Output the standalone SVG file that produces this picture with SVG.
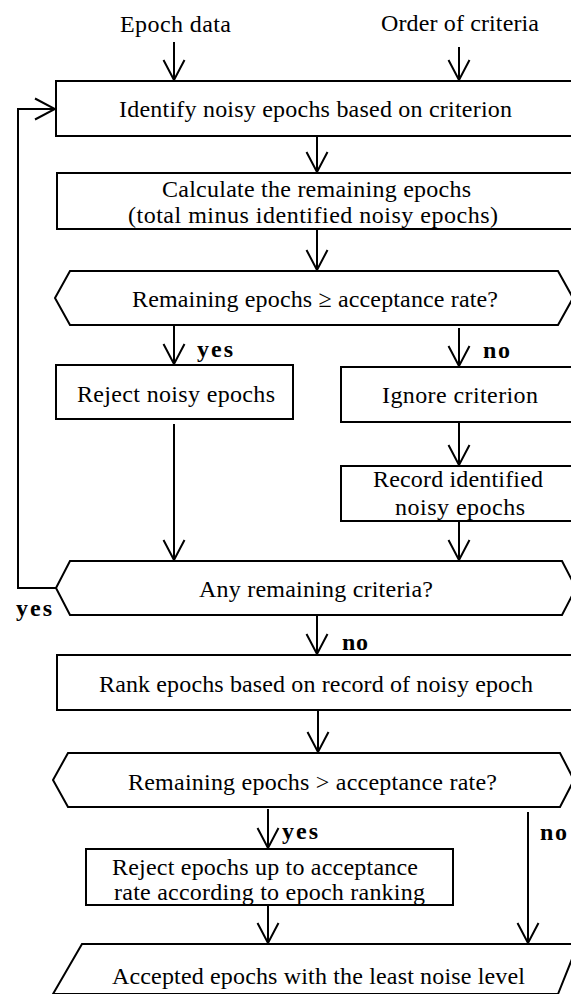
<svg xmlns="http://www.w3.org/2000/svg" width="571" height="994" viewBox="0 0 571 994">
<style>
.s{fill:#fff;stroke:#000;stroke-width:2}
.t{font-family:"Liberation Serif","Times New Roman",serif;font-size:24px;fill:#000}
.b{font-family:"Liberation Serif","Times New Roman",serif;font-size:24px;font-weight:bold;fill:#000}
.c{fill:none;stroke:#000;stroke-width:2}
</style>
<defs>
<marker id="ah" markerUnits="userSpaceOnUse" markerWidth="24" markerHeight="26" viewBox="-22 -12 24 24" refX="0" refY="0" orient="auto">
<path d="M-20,-10.5 L0,0 L-20,10.5" fill="none" stroke="#000" stroke-width="2"/>
</marker>
</defs>
<rect width="571" height="994" fill="#fff"/>

<g id="in1"><text class="t" x="120" y="32" textLength="111">Epoch data</text></g>
<g id="in2"><text class="t" x="381" y="31" textLength="158">Order of criteria</text></g>

<g id="identify">
<rect class="s" x="56" y="81" width="522" height="55"/>
<text class="t" x="119" y="117" textLength="393">Identify noisy epochs based on criterion</text>
</g>
<g id="calculate">
<rect class="s" x="57" y="173" width="521" height="56"/>
<text class="t" x="162" y="197" textLength="309">Calculate the remaining epochs</text>
<text class="t" x="128" y="223" textLength="370">(total minus identified noisy epochs)</text>
</g>
<g id="dec1">
<polygon class="s" points="70,271 558,271 573,298 558,325 70,325 55,298"/>
<text class="t" x="132" y="307" textLength="366">Remaining epochs ≥ acceptance rate?</text>
</g>
<g id="rejectnoisy">
<rect class="s" x="56" y="365" width="237" height="54"/>
<text class="t" x="77" y="402" textLength="198">Reject noisy epochs</text>
</g>
<g id="ignore">
<rect class="s" x="341" y="367" width="237" height="55"/>
<text class="t" x="382" y="403" textLength="156">Ignore criterion</text>
</g>
<g id="record">
<rect class="s" x="341" y="466" width="237" height="55"/>
<text class="t" x="373" y="487" textLength="170">Record identified</text>
<text class="t" x="395" y="515" textLength="130">noisy epochs</text>
</g>
<g id="dec2">
<polygon class="s" points="70,561 562,561 576,588 562,615 70,615 56,588"/>
<text class="t" x="199" y="597" textLength="234">Any remaining criteria?</text>
</g>
<g id="rank">
<rect class="s" x="57" y="655" width="521" height="55"/>
<text class="t" x="99" y="692" textLength="434">Rank epochs based on record of noisy epoch</text>
</g>
<g id="dec3">
<polygon class="s" points="68,753 560,753 574,780 560,807 68,807 53,780"/>
<text class="t" x="128" y="790" textLength="369">Remaining epochs &gt; acceptance rate?</text>
</g>
<g id="rejectupto">
<rect class="s" x="86" y="849" width="367" height="56"/>
<text class="t" x="112" y="875" textLength="306">Reject epochs up to acceptance</text>
<text class="t" x="114" y="900" textLength="311">rate according to epoch ranking</text>
</g>
<g id="accepted">
<polygon class="s" points="82,944 578,944 558,994 53,994"/>
<text class="t" x="112" y="984" textLength="413">Accepted epochs with the least noise level</text>
</g>

<g id="connectors">
<line class="c" x1="174" y1="42" x2="174" y2="80" marker-end="url(#ah)"/>
<line class="c" x1="459" y1="47" x2="459" y2="80" marker-end="url(#ah)"/>
<line class="c" x1="317" y1="136" x2="317" y2="172" marker-end="url(#ah)"/>
<line class="c" x1="317" y1="229" x2="317" y2="270" marker-end="url(#ah)"/>
<line class="c" x1="174" y1="325" x2="174" y2="364" marker-end="url(#ah)"/>
<line class="c" x1="459" y1="328" x2="459" y2="366" marker-end="url(#ah)"/>
<line class="c" x1="459" y1="422" x2="459" y2="465" marker-end="url(#ah)"/>
<line class="c" x1="174" y1="424" x2="174" y2="560" marker-end="url(#ah)"/>
<line class="c" x1="459" y1="521" x2="459" y2="560" marker-end="url(#ah)"/>
<polyline class="c" points="56,588 18,588 18,109 55,109" marker-end="url(#ah)"/>
<line class="c" x1="317" y1="615" x2="317" y2="654" marker-end="url(#ah)"/>
<line class="c" x1="318" y1="710" x2="318" y2="752" marker-end="url(#ah)"/>
<line class="c" x1="268" y1="809" x2="268" y2="848" marker-end="url(#ah)"/>
<line class="c" x1="528" y1="812" x2="528" y2="943" marker-end="url(#ah)"/>
<line class="c" x1="268" y1="905" x2="268" y2="943" marker-end="url(#ah)"/>
<text class="b" x="197" y="357" textLength="36">yes</text>
<text class="b" x="483" y="358" textLength="27">no</text>
<text class="b" x="16" y="616" textLength="36">yes</text>
<text class="b" x="342" y="650" textLength="26">no</text>
<text class="b" x="282" y="839" textLength="36">yes</text>
<text class="b" x="540" y="840" textLength="27">no</text>
</g>
</svg>
